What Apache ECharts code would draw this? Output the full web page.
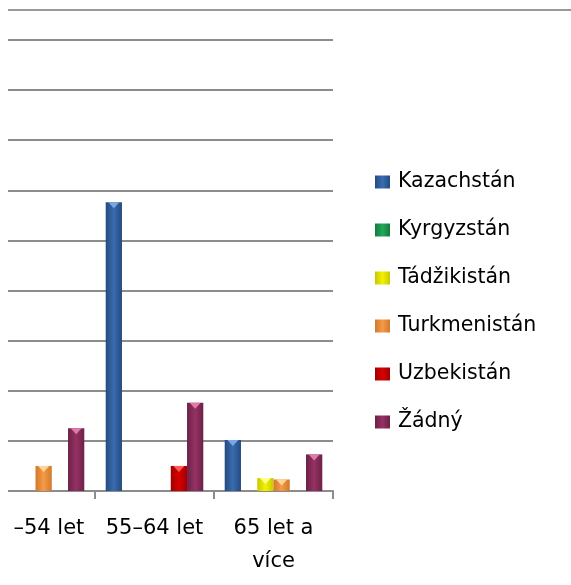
<!DOCTYPE html>
<html lang="cs">
<head>
    <meta charset="UTF-8">
    <title>Věkové skupiny</title>
    <script src="https://cdn.jsdelivr.net/npm/echarts@6/dist/echarts.min.js"></script>
    <style>
        html, body { margin: 0; padding: 0; background: #fff; overflow: hidden; }
        /* the source picture is cropped on the left: shift the chart 24px out of view */
        #chart { position: absolute; left: -24px; top: 0; width: 595px; height: 585px; }
    </style>
</head>
<body>
    <div id="chart"></div>
    <script>
        // data (units = gridline steps)
        const categories = ['45–54 let', '55–64 let', '65 let a\nvíce'];
        const kazachstan = [null, 5.76, 1.02];
        const kyrgyzstan = [null, null, null];
        const tadzikistan = [null, null, 0.26];
        const turkmenistan = [0.5, null, 0.23];
        const uzbekistan = [null, 0.5, null];
        const zadny = [1.25, 1.76, 0.73];

        const seriesDefs = [
            { name: 'Kazachstán', data: kazachstan, dark: '#234b80', mid: '#3a6cae', tip: '#7aa8e0' },
            { name: 'Kyrgyzstán', data: kyrgyzstan, dark: '#137a3e', mid: '#23a85a', tip: '#6fd79a' },
            { name: 'Tádžikistán', data: tadzikistan, dark: '#c8c800', mid: '#f2f200', tip: '#ffff90' },
            { name: 'Turkmenistán', data: turkmenistan, dark: '#d07a2a', mid: '#f59a48', tip: '#ffd49a' },
            { name: 'Uzbekistán', data: uzbekistan, dark: '#a00000', mid: '#d80000', tip: '#ff5a5a' },
            { name: 'Žádný', data: zadny, dark: '#6e2048', mid: '#953263', tip: '#e07aa8' }
        ];

        const chart = echarts.init(document.getElementById('chart'));

        function grad(d) {
            return new echarts.graphic.LinearGradient(0, 0, 1, 0, [
                { offset: 0, color: d.dark },
                { offset: 0.5, color: d.mid },
                { offset: 1, color: d.dark }
            ]);
        }

        const series = [];
        seriesDefs.forEach(function (d) {
            series.push({
                name: d.name,
                type: 'bar',
                data: d.data,
                barGap: '0%',
                barCategoryGap: '18%',
                itemStyle: { color: grad(d) },
                z: 2
            });
        });
        // little bevel triangles on top of the bars
        seriesDefs.forEach(function (d) {
            series.push({
                name: d.name + '_tip',
                type: 'pictorialBar',
                data: d.data,
                barGap: '0%',
                barCategoryGap: '18%',
                symbol: 'triangle',
                symbolRotate: 180,
                symbolSize: [11, 6],
                symbolPosition: 'end',
                symbolOffset: [0, 0],
                itemStyle: { color: d.tip },
                silent: true,
                z: 3
            });
        });

        chart.setOption({
            animation: false,
            color: seriesDefs.map(function (d) { return d.mid; }),
            grid: { left: 0, right: 238, top: 40, bottom: 94 },
            legend: {
                data: seriesDefs.map(function (d) { return d.name; }),
                orient: 'vertical',
                left: 394,
                top: 166,
                icon: 'rect',
                itemWidth: 15,
                itemHeight: 13,
                itemGap: 26,
                textStyle: { fontFamily: 'DejaVu Sans', fontSize: 20.5, color: '#000', lineHeight: 22, padding: [0, 0, 0, 3] }
            },
            xAxis: {
                type: 'category',
                data: categories,
                axisLine: { lineStyle: { color: '#8c8c8c', width: 2 } },
                axisTick: { show: true, length: 8, lineStyle: { color: '#8c8c8c', width: 2 } },
                axisLabel: {
                    interval: 0,
                    margin: 21,
                    fontFamily: 'DejaVu Sans',
                    fontSize: 21,
                    lineHeight: 33,
                    color: '#000'
                }
            },
            yAxis: {
                type: 'value',
                min: 0,
                max: 9,
                interval: 1,
                axisLabel: { show: false },
                axisLine: { show: false },
                axisTick: { show: false },
                splitLine: { lineStyle: { color: '#8c8c8c', width: 2 } }
            },
            graphic: [
                {
                    type: 'line',
                    shape: { x1: 32, y1: 10, x2: 595, y2: 10 },
                    style: { stroke: '#999', lineWidth: 2 }
                },
                {
                    type: 'rect',
                    shape: { x: 24, y: 0, width: 8, height: 585 },
                    style: { fill: '#fff' },
                    z: 100
                },
                {
                    type: 'rect',
                    shape: { x: 24, y: 505, width: 13, height: 80 },
                    style: { fill: '#fff' },
                    z: 100
                }
            ],
            series: series
        });
    </script>
</body>
</html>
